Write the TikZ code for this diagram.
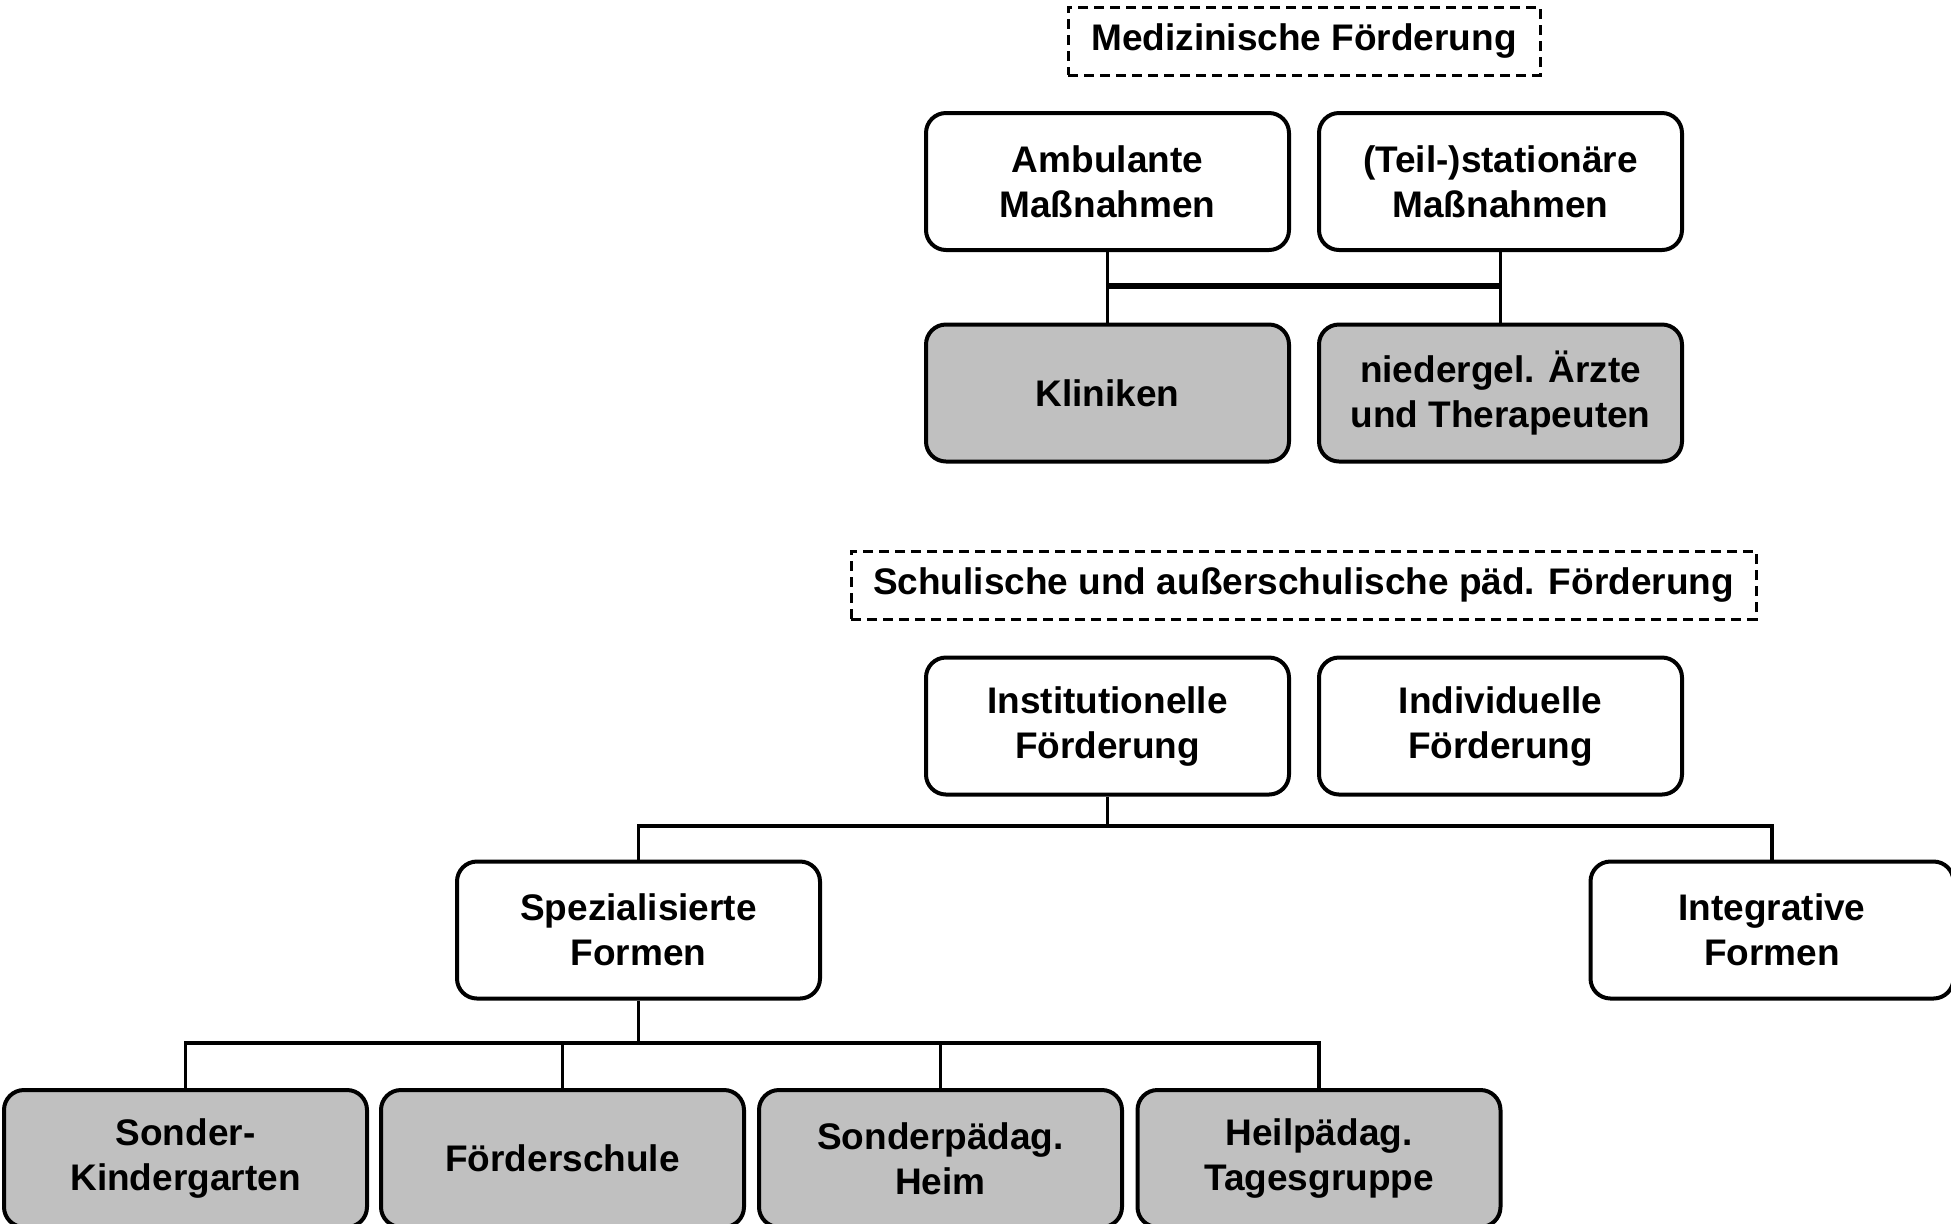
\documentclass[tikz,border=0pt]{standalone}
\usepackage{fontspec}
\setmainfont{Liberation Sans}
\definecolor{boxgrey}{RGB}{192,192,192}

\begin{document}
\begin{tikzpicture}[
                x=0.5pt,y=-0.5pt,
                line width=1.8pt,
                box/.style={draw,line width=2pt,rounded corners=10pt,align=center,fill=white,text=black,
                            minimum width=181.5pt,minimum height=68.5pt,
                            font=\fontsize{18.5}{22.5}\selectfont\bfseries},
                greybox/.style={box,fill=boxgrey},
                headbox/.style={draw,dash pattern=on 5pt off 3pt,line width=1.5pt,align=center,text=black,
                            minimum height=34pt,font=\fontsize{18.5}{22.5}\selectfont\bfseries}] %

\useasboundingbox (0,0) rectangle (1951,1223);

% medizinisch
                    \node[headbox,minimum width=236pt] (MED) at (1304,41) {Medizinische Förderung};

                    % 1
                    \node[box] (AMB) at (1107.5,181.5) {Ambulante\\Maßnahmen};
                    \node[box] (STAT) at (1500.5,181.5) {(Teil-)stationäre\\Maßnahmen};

                    % 2
                    \node[greybox] (KLIN) at (1107.5,393) {Kliniken};
                    \node[greybox] (ARZT) at (1500.5,393) {niedergel. Ärzte\\und Therapeuten};

                    \coordinate (BUSM) at (1107.5,286);
                    \draw (AMB.south) -- (KLIN.north);
                    \draw (STAT.south) -- (ARZT.north);
                    \draw[line width=2.6pt] (BUSM) -- (BUSM -| STAT.south);


%%%%%%%%%%%%%%%%%%%%%%%%%%%%%%%%%%%%%%%%%%%%%%%%%%%%%%%%%%%%%%%%%%%%%%%%%%%%%%%%%%%%

% schulisch
                    \node[headbox,minimum width=452.5pt] (SCHUL) at (1303.5,585) {Schulische und außerschulische päd. Förderung};

                    % 1
                    \node[box] (INST) at (1107.5,726) {Institutionelle\\Förderung};
                    \node[box] (INDIV) at (1500.5,726) {Individuelle\\Förderung};

                    % 2
                    \node[box] (SPEZ) at (638.5,930) {Spezialisierte\\Formen};
                    \node[box] (INTEG) at (1772,930) {Integrative\\Formen};

                    \coordinate (BUSS) at (1107.5,826);
                    \draw (INST.south) -- (BUSS);
                    \draw (SPEZ.north) |- (BUSS) -| (INTEG.north);

                    % 3
                    \node[greybox] (SKIGA) at (185.5,1158.5) {Sonder-\\Kindergarten};
                    \node[greybox] (FSCHU) at (562.5,1158.5) {Förderschule};
                    \node[greybox] (SHEIM) at (940.5,1158.5) {Sonderpädag.\\Heim};
                    \node[greybox] (TGRUP) at (1319,1158.5) {Heilpädag.\\Tagesgruppe};

                    \coordinate (BUSB) at (638.5,1043);
                    \draw (SPEZ.south) -- (BUSB);
                    \draw (SKIGA.north) |- (BUSB) -| (TGRUP.north);
                    \foreach \n in {FSCHU,SHEIM}
                      \draw (\n.north) -- (\n.north |- BUSB);

\end{tikzpicture}
\end{document}
